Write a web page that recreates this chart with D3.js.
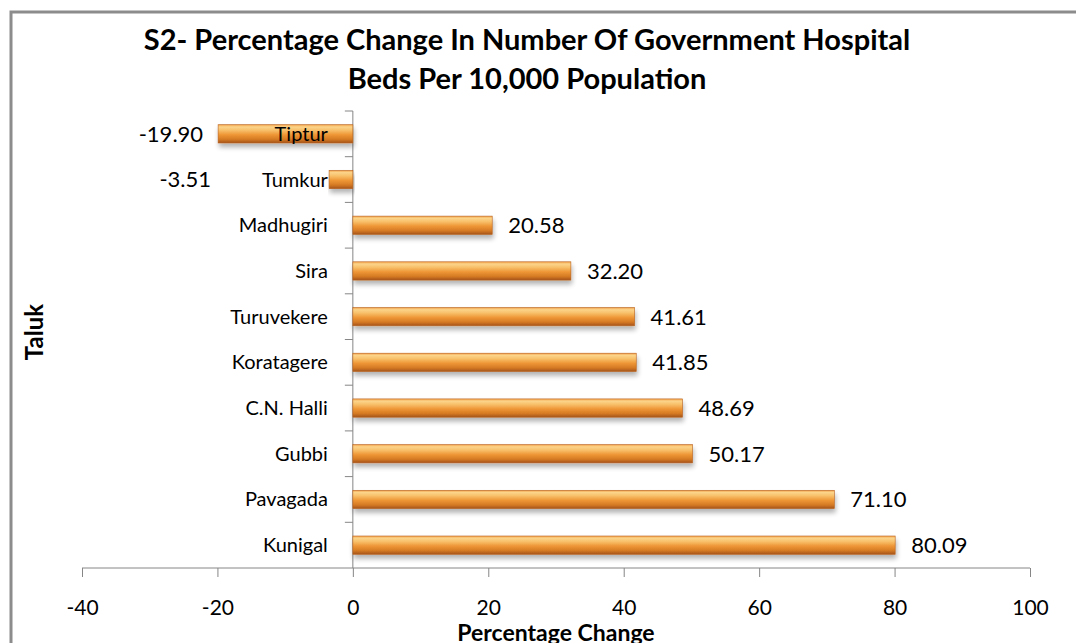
<!DOCTYPE html>
<html>
<head>
<meta charset="utf-8">
<script src="https://cdn.jsdelivr.net/npm/d3@7"></script>
<style>
body { margin: 0; background: #fff; }
text { font-family: Lato, "Open Sans", sans-serif; }
</style>
</head>
<body>
<div id="chart"></div>
<script>
// data
var taluks = ["Tiptur", "Tumkur", "Madhugiri", "Sira", "Turuvekere", "Koratagere", "C.N. Halli", "Gubbi", "Pavagada", "Kunigal"];
var changes = [-19.90, -3.51, 20.58, 32.20, 41.61, 41.85, 48.69, 50.17, 71.10, 80.09];
var xTicks = [-40, -20, 0, 20, 40, 60, 80, 100];
var titleLines = ["S2- Percentage Change In Number Of Government Hospital", "Beds Per 10,000 Population"];

var data = taluks.map(function(t, i) { return {taluk: t, value: changes[i]}; });

var W = 1076, H = 643;
var margin = {top: 111, right: 46, bottom: 75, left: 82},
width = W - margin.left - margin.right,
height = H - margin.top - margin.bottom;

var svg = d3.select("#chart").append("svg")
  .attr("width", W)
  .attr("height", H);

// outer chart frame
svg.append("rect")
  .attr("x", 11).attr("y", 12)
  .attr("width", W + 20).attr("height", H + 20)
  .attr("fill", "#fff")
  .attr("stroke", "#8c8c8c")
  .attr("stroke-width", 3);

// gradient for bevelled bars
var defs = svg.append("defs");
var grad = defs.append("linearGradient")
  .attr("id", "barGrad")
  .attr("x1", 0).attr("y1", 0).attr("x2", 0).attr("y2", 1);
[[0, "#f3a24a"], [0.12, "#fbd48a"], [0.3, "#f8c06a"], [0.55, "#ee9636"], [0.8, "#d57a24"], [1, "#a4531b"]]
  .forEach(function(s) { grad.append("stop").attr("offset", s[0]).attr("stop-color", s[1]); });

var shadow = defs.append("filter").attr("id", "shadow")
  .attr("x", "-5%").attr("y", "-50%").attr("width", "110%").attr("height", "250%");
shadow.append("feGaussianBlur").attr("in", "SourceAlpha").attr("stdDeviation", 2.5);
shadow.append("feOffset").attr("dx", 1).attr("dy", 4).attr("result", "blur");
shadow.append("feComponentTransfer").append("feFuncA").attr("type", "linear").attr("slope", 0.3);
var merge = shadow.append("feMerge");
merge.append("feMergeNode");
merge.append("feMergeNode").attr("in", "SourceGraphic");

var g = svg.append("g")
  .attr("transform", "translate(" + margin.left + "," + margin.top + ")");

var x = d3.scaleLinear().domain([-40, 100]).range([0, width]);
var y = d3.scaleBand().domain(taluks).range([0, height]).paddingInner(0.6).paddingOuter(0.3);
var band = d3.scaleBand().domain(taluks).range([0, height]);

// x axis
var xAxis = g.append("g")
  .attr("transform", "translate(0," + height + ")")
  .call(d3.axisBottom(x).tickValues(xTicks).tickSize(9).tickPadding(23).tickFormat(function(d) { return String(d); }));
xAxis.select(".domain").attr("stroke", "#868686").attr("d", "M0,0H" + width);
xAxis.selectAll(".tick line").attr("stroke", "#868686");
xAxis.selectAll(".tick text").attr("font-size", 21).attr("fill", "#000")
  .style("font-family", "Lato, sans-serif");

// y axis at zero, ticks between categories
var yAxis = g.append("g").attr("transform", "translate(" + x(0) + ",0)");
yAxis.append("line")
  .attr("y1", 0).attr("y2", height)
  .attr("stroke", "#868686");
yAxis.selectAll(".ytick")
  .data(taluks)
  .enter().append("line")
  .attr("x1", -8).attr("x2", 0)
  .attr("y1", function(d) { return band(d); })
  .attr("y2", function(d) { return band(d); })
  .attr("stroke", "#868686");

// bars
g.selectAll(".bar")
  .data(data)
  .enter().append("rect")
  .attr("class", "bar")
  .attr("x", function(d) { return x(Math.min(0, d.value)); })
  .attr("width", function(d) { return Math.abs(x(d.value) - x(0)); })
  .attr("y", function(d) { return y(d.taluk); })
  .attr("height", y.bandwidth())
  .attr("fill", "url(#barGrad)")
  .attr("stroke", "#b8621e")
  .attr("stroke-width", 0.6)
  .attr("filter", "url(#shadow)");

// category labels, left of the zero line
g.selectAll(".cat")
  .data(data)
  .enter().append("text")
  .attr("x", x(0) - 25)
  .attr("y", function(d) { return band(d.taluk) + band.bandwidth() / 2; })
  .attr("dy", "0.35em")
  .attr("text-anchor", "end")
  .attr("font-size", 20)
  .text(function(d) { return d.taluk; });

// value labels
var minV = d3.min(changes);
g.selectAll(".val")
  .data(data)
  .enter().append("text")
  .attr("x", function(d) { return d.value < 0 ? Math.min(x(d.value), x(minV) + 8) - 15 : x(d.value) + 16; })
  .attr("y", function(d) { return band(d.taluk) + band.bandwidth() / 2; })
  .attr("dy", "0.36em")
  .attr("text-anchor", function(d) { return d.value < 0 ? "end" : "start"; })
  .attr("font-size", 22)
  .text(function(d) { return d.value.toFixed(2); });

// title
svg.selectAll(".title")
  .data(titleLines)
  .enter().append("text")
  .attr("x", 527)
  .attr("y", function(d, i) { return 50 + i * 39; })
  .attr("text-anchor", "middle")
  .attr("font-size", 29)
  .attr("font-weight", "bold")
  .text(function(d) { return d; });

// axis titles
svg.append("text")
  .attr("x", margin.left + width / 2)
  .attr("y", 641)
  .attr("text-anchor", "middle")
  .attr("font-size", 23)
  .attr("font-weight", "bold")
  .text("Percentage Change");

svg.append("text")
  .attr("transform", "translate(43,332) rotate(-90)")
  .attr("text-anchor", "middle")
  .attr("font-size", 24)
  .attr("font-weight", "bold")
  .text("Taluk");
</script>
</body>
</html>
